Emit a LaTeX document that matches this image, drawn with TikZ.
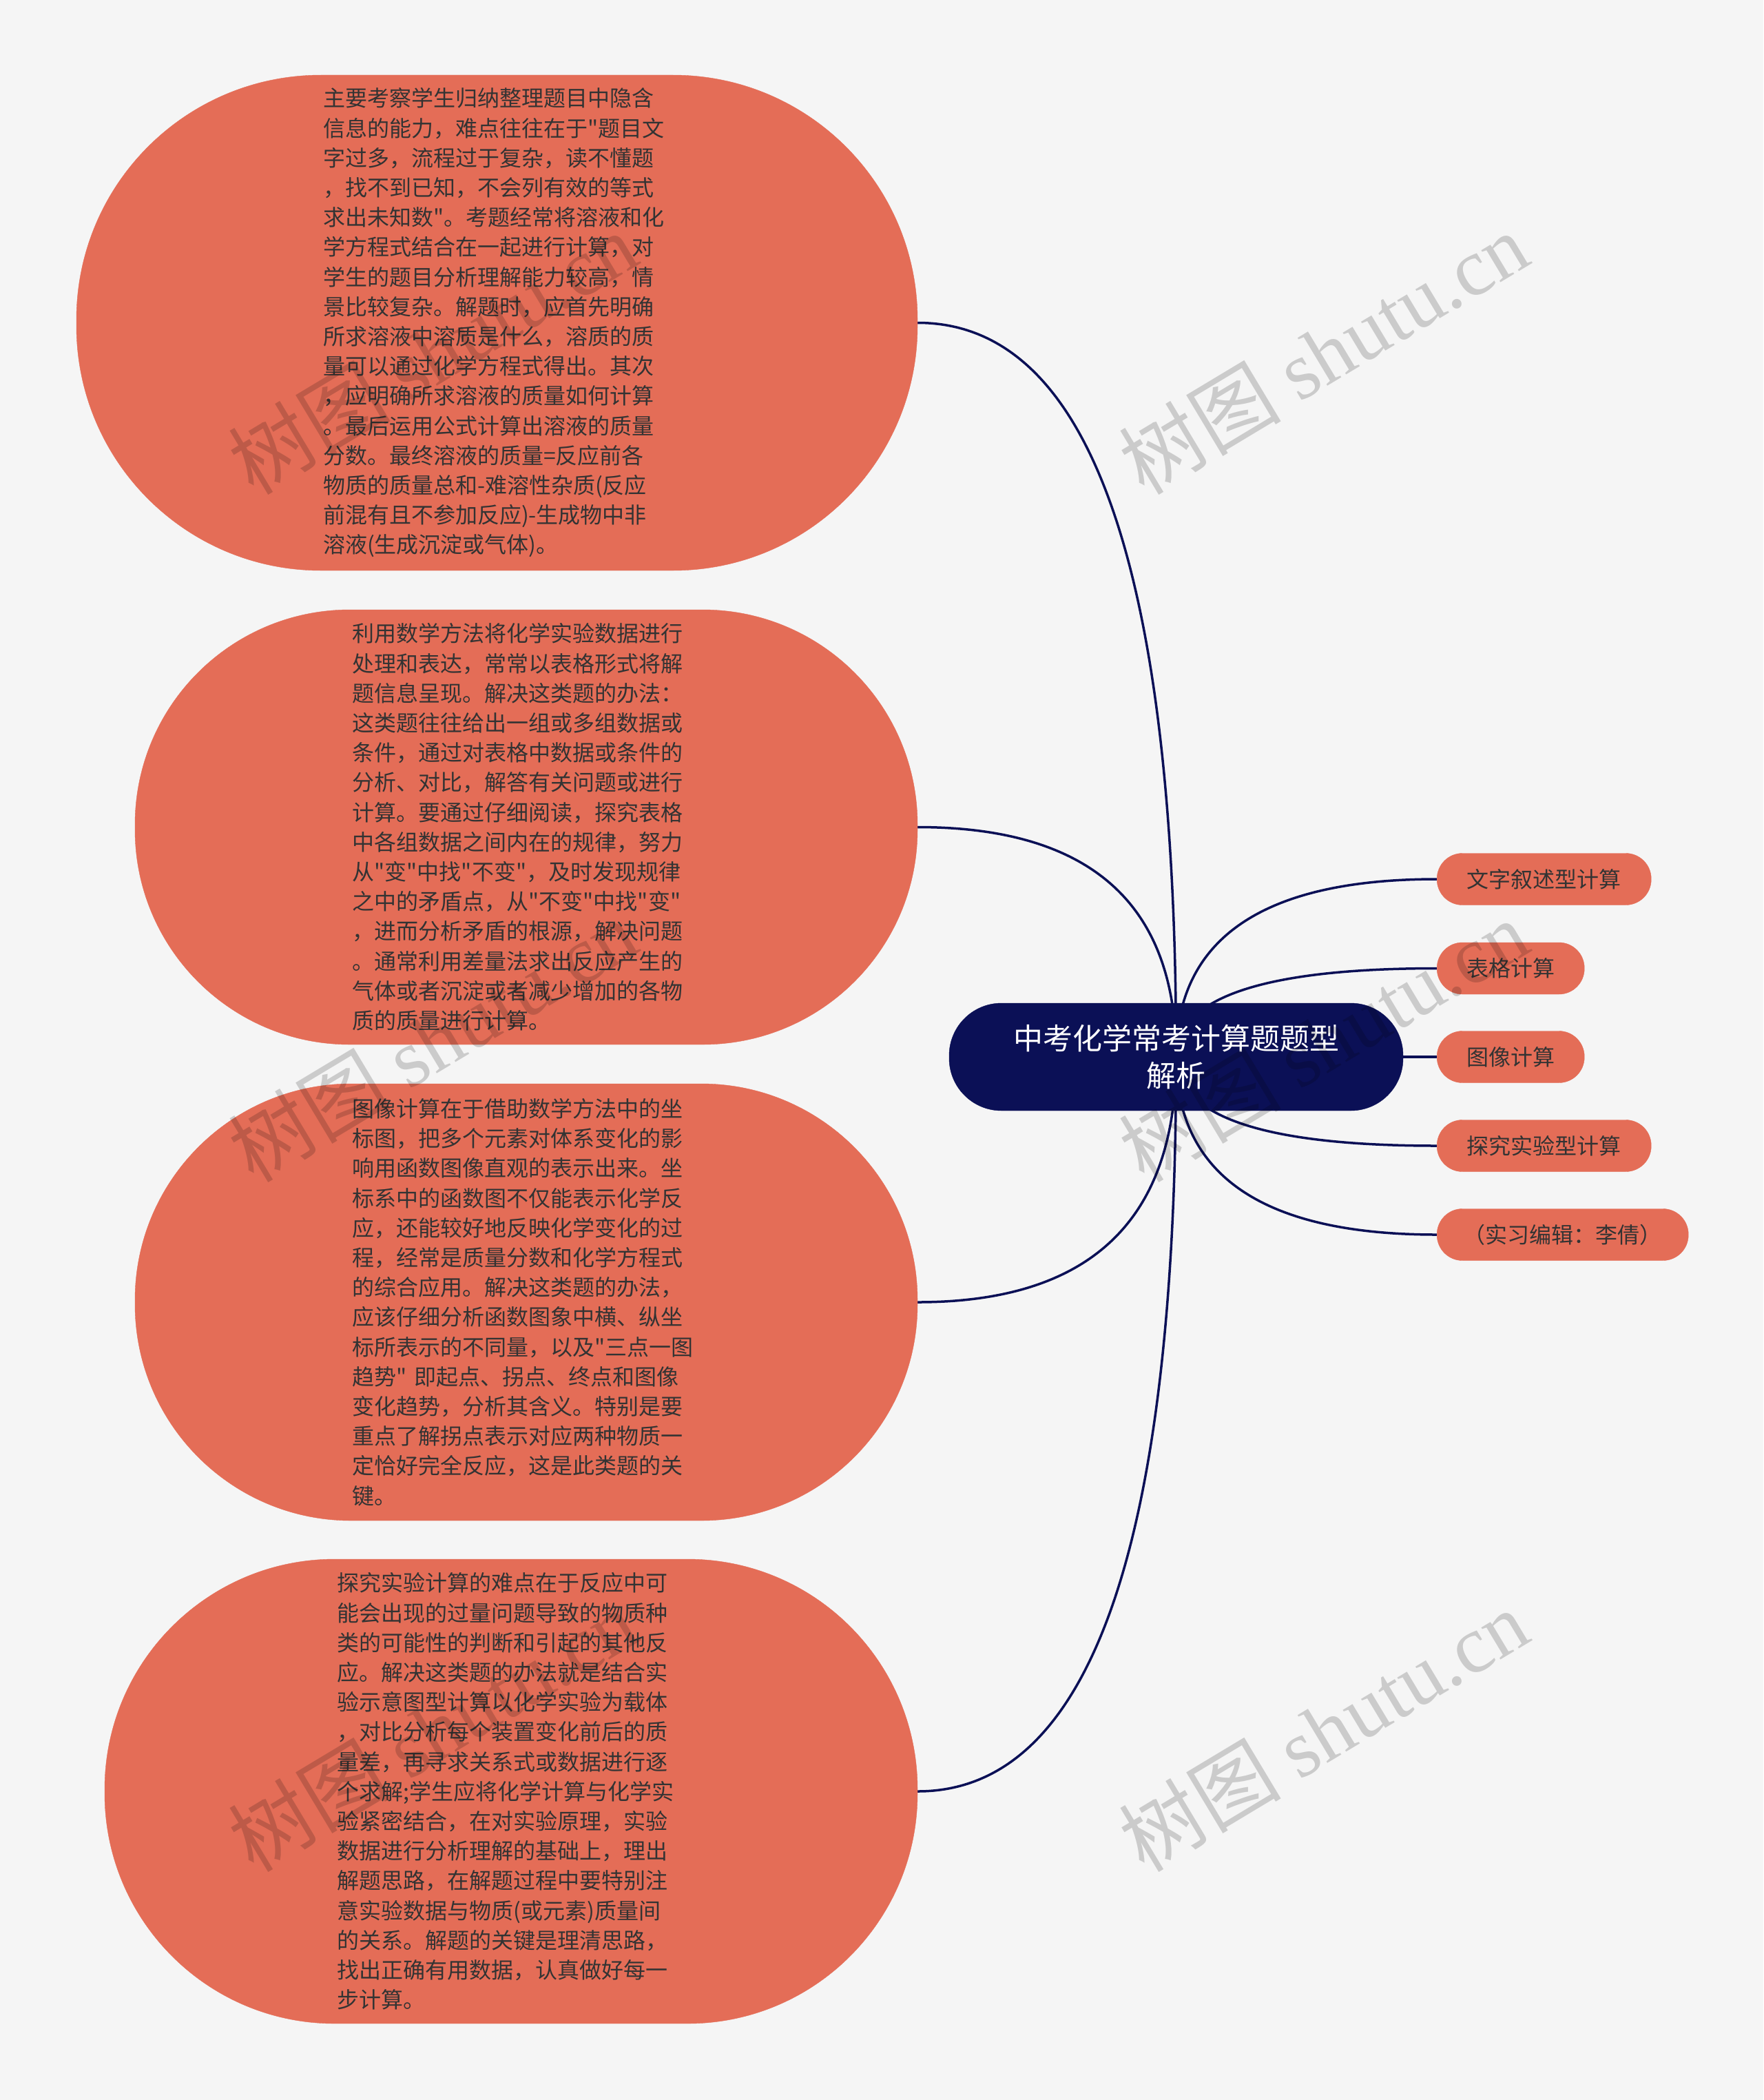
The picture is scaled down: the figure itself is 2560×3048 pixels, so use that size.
\documentclass[tikz,border=0pt]{standalone}
\usepackage{fontspec}
\setmainfont{Noto Sans CJK SC}[Ligatures=TeXOff]
\newfontfamily\wmserif{Liberation Serif}
\newfontfamily\wmcjk{Noto Sans CJK SC}
\usetikzlibrary{calc}
\definecolor{bgc}{HTML}{F5F5F5}
\definecolor{salmon}{HTML}{E46D57}
\definecolor{navy}{HTML}{0B1056}
\definecolor{txt}{HTML}{333333}
\pgfdeclarelayer{bgl}
\pgfdeclarelayer{edges}
\pgfdeclarelayer{wm}
\pgfsetlayers{bgl,edges,main,wm}
\begin{document}
\begin{tikzpicture}[x=1pt,y=-1pt,
  bignode/.style={fill=salmon, draw=salmon, text=txt, align=left, inner sep=0pt,
    text width=505pt, font=\fontsize{32}{43.2}\selectfont},
  leafnode/.style={fill=salmon, draw=salmon, text=txt, inner sep=0pt,
    minimum height=75pt, rounded corners=37pt, font=\fontsize{32}{40}\selectfont},
  rootnode/.style={fill=navy, draw=navy, text=white, align=center, inner sep=0pt,
    minimum width=659pt, minimum height=156pt, rounded corners=76pt,
    font=\fontsize{43}{54.5}\selectfont},
  edge/.style={draw=navy, line width=3.5pt},
  wmark/.style={text=black, opacity=0.17, rotate=31, inner sep=0pt}
]
\useasboundingbox (0,0) rectangle (2560,3048);
\begin{pgfonlayer}{bgl}
\fill[bgc] (0,0) rectangle (2560,3048);
\end{pgfonlayer}

\node[rootnode] (root) at (1707.5,1534) {中考化学常考计算题题型\\解析};

\node[bignode, minimum width=1221pt, minimum height=719pt, rounded corners=355pt] (n1) at (721.5,468.5) {主要考察学生归纳整理题目中隐含\\信息的能力，难点往往在于"题目文\\字过多，流程过于复杂，读不懂题\\，找不到已知，不会列有效的等式\\求出未知数"。考题经常将溶液和化\\学方程式结合在一起进行计算，对\\学生的题目分析理解能力较高，情\\景比较复杂。解题时，应首先明确\\所求溶液中溶质是什么，溶质的质\\量可以通过化学方程式得出。其次\\，应明确所求溶液的质量如何计算\\。最后运用公式计算出溶液的质量\\分数。最终溶液的质量=反应前各\\物质的质量总和-难溶性杂质(反应\\前混有且不参加反应)-生成物中非\\溶液(生成沉淀或气体)。};

\node[bignode, minimum width=1136pt, minimum height=631pt, rounded corners=312pt] (n2) at (764,1200.5) {利用数学方法将化学实验数据进行\\处理和表达，常常以表格形式将解\\题信息呈现。解决这类题的办法：\\这类题往往给出一组或多组数据或\\条件，通过对表格中数据或条件的\\分析、对比，解答有关问题或进行\\计算。要通过仔细阅读，探究表格\\中各组数据之间内在的规律，努力\\从"变"中找"不变"，及时发现规律\\之中的矛盾点，从"不变"中找"变"\\，进而分析矛盾的根源，解决问题\\。通常利用差量法求出反应产生的\\气体或者沉淀或者减少增加的各物\\质的质量进行计算。};

\node[bignode, minimum width=1136pt, minimum height=634pt, rounded corners=314pt] (n3) at (764,1890) {图像计算在于借助数学方法中的坐\\标图，把多个元素对体系变化的影\\响用函数图像直观的表示出来。坐\\标系中的函数图不仅能表示化学反\\应，还能较好地反映化学变化的过\\程，经常是质量分数和化学方程式\\的综合应用。解决这类题的办法，\\应该仔细分析函数图象中横、纵坐\\标所表示的不同量，以及"三点一图\\趋势" 即起点、拐点、终点和图像\\变化趋势，分析其含义。特别是要\\重点了解拐点表示对应两种物质一\\定恰好完全反应，这是此类题的关\\键。};

\node[bignode, minimum width=1180pt, minimum height=674pt, rounded corners=334pt] (n4) at (742,2600) {探究实验计算的难点在于反应中可\\能会出现的过量问题导致的物质种\\类的可能性的判断和引起的其他反\\应。解决这类题的办法就是结合实\\验示意图型计算以化学实验为载体\\，对比分析每个装置变化前后的质\\量差，再寻求关系式或数据进行逐\\个求解;学生应将化学计算与化学实\\验紧密结合，在对实验原理，实验\\数据进行分析理解的基础上，理出\\解题思路，在解题过程中要特别注\\意实验数据与物质(或元素)质量间\\的关系。解题的关键是理清思路，\\找出正确有用数据，认真做好每一\\步计算。};

\node[leafnode, minimum width=311pt, anchor=west] (r1) at (2086,1276) {文字叙述型计算};
\node[leafnode, minimum width=214pt, anchor=west] (r2) at (2086,1405.5) {表格计算};
\node[leafnode, minimum width=214pt, anchor=west] (r3) at (2086,1534) {图像计算};
\node[leafnode, minimum width=311pt, anchor=west] (r4) at (2086,1663) {探究实验型计算};
\node[leafnode, minimum width=365pt, anchor=west] (r5) at (2086,1792) {（实习编辑：李倩）};

\begin{pgfonlayer}{edges}
\foreach \n in {n1,n2,n3,n4}{
  \coordinate (c\n) at (root.center|-\n.east);
  \draw[edge] (root.center) .. controls ($(root.center)!0.667!(c\n)$) and ($(\n.east)!0.667!(c\n)$) .. (\n.east);
}
\foreach \n in {r1,r2,r3,r4,r5}{
  \coordinate (c\n) at (root.center|-\n.west);
  \draw[edge] (root.center) .. controls ($(root.center)!0.667!(c\n)$) and ($(\n.west)!0.667!(c\n)$) .. (\n.west);
}
\end{pgfonlayer}

\begin{pgfonlayer}{wm}
\node[wmark] (w1) at (628,512) {\fontsize{118}{118}\selectfont\wmcjk 树图 \wmserif shutu.cn};
\node[wmark] (w2) at (1921,512) {\fontsize{118}{118}\selectfont\wmcjk 树图 \wmserif shutu.cn};
\node[wmark] (w3) at (628,1510) {\fontsize{118}{118}\selectfont\wmcjk 树图 \wmserif shutu.cn};
\node[wmark] (w4) at (1921,1510) {\fontsize{118}{118}\selectfont\wmcjk 树图 \wmserif shutu.cn};
\node[wmark] (w5) at (628,2511) {\fontsize{118}{118}\selectfont\wmcjk 树图 \wmserif shutu.cn};
\node[wmark] (w6) at (1921,2511) {\fontsize{118}{118}\selectfont\wmcjk 树图 \wmserif shutu.cn};
\end{pgfonlayer}
\end{tikzpicture}
\end{document}
